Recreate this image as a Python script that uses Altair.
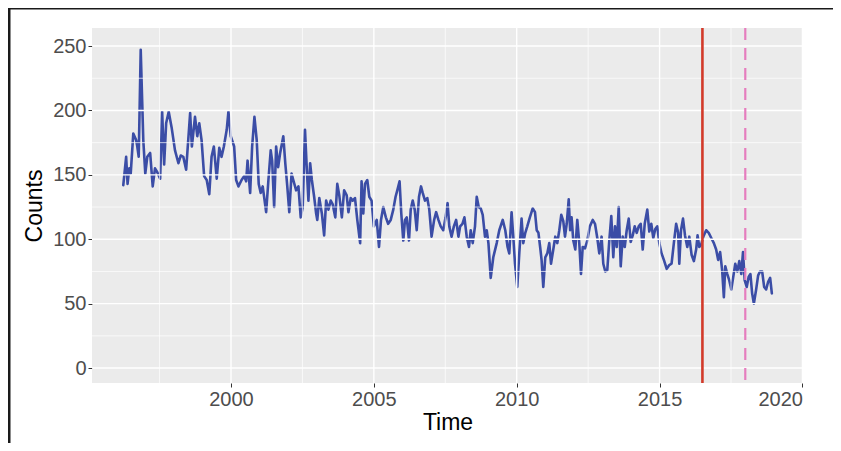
import altair as alt
import pandas as pd

# Monthly counts (decimal year, count)
time = [
    1996.23, 1996.33, 1996.38, 1996.44, 1996.49, 1996.58, 1996.68, 1996.72, 1996.77, 1996.84,
    1996.89, 1996.93, 1997.00, 1997.07, 1997.17, 1997.26, 1997.34, 1997.42, 1997.52, 1997.59,
    1997.66, 1997.73, 1997.82, 1997.92, 1998.04, 1998.16, 1998.24, 1998.33, 1998.43, 1998.57,
    1998.63, 1998.74, 1998.82, 1998.89, 1998.97, 1999.06, 1999.15, 1999.24, 1999.32, 1999.40,
    1999.50, 1999.59, 1999.67, 1999.75, 1999.85, 1999.91, 1999.99, 2000.11, 2000.18, 2000.26,
    2000.37, 2000.46, 2000.53, 2000.58, 2000.67, 2000.74, 2000.82, 2000.90, 2000.97, 2001.04,
    2001.11, 2001.23, 2001.31, 2001.39, 2001.44, 2001.51, 2001.58, 2001.65, 2001.72, 2001.78,
    2001.83, 2001.90, 2001.97, 2002.04, 2002.12, 2002.18, 2002.28, 2002.36, 2002.44, 2002.51,
    2002.59, 2002.65, 2002.71, 2002.77, 2002.83, 2002.91, 2002.98, 2003.02, 2003.09, 2003.18,
    2003.26, 2003.33, 2003.41, 2003.49, 2003.56, 2003.65, 2003.72, 2003.79, 2003.88, 2003.96,
    2004.05, 2004.11, 2004.19, 2004.26, 2004.34, 2004.42, 2004.52, 2004.57, 2004.63, 2004.69,
    2004.77, 2004.84, 2004.92, 2005.00, 2005.10, 2005.18, 2005.25, 2005.33, 2005.42, 2005.50,
    2005.59, 2005.68, 2005.76, 2005.82, 2005.90, 2005.96, 2006.03, 2006.09, 2006.15, 2006.23,
    2006.29, 2006.36, 2006.43, 2006.50, 2006.58, 2006.65, 2006.71, 2006.79, 2006.87, 2006.94,
    2007.02, 2007.11, 2007.18, 2007.26, 2007.34, 2007.43, 2007.51, 2007.58, 2007.64, 2007.72,
    2007.80, 2007.88, 2007.96, 2008.02, 2008.10, 2008.17, 2008.25, 2008.33, 2008.39, 2008.46,
    2008.54, 2008.60, 2008.67, 2008.74, 2008.81, 2008.89, 2008.95, 2009.01, 2009.09, 2009.18,
    2009.30, 2009.39, 2009.51, 2009.60, 2009.68, 2009.74, 2009.82, 2009.88, 2009.94, 2010.02,
    2010.09, 2010.17, 2010.23, 2010.30, 2010.37, 2010.46, 2010.56, 2010.64, 2010.70, 2010.76,
    2010.82, 2010.87, 2010.93, 2011.00, 2011.07, 2011.14, 2011.20, 2011.28, 2011.35, 2011.42,
    2011.49, 2011.56, 2011.63, 2011.69, 2011.75, 2011.82, 2011.87, 2011.92, 2011.98, 2012.05,
    2012.12, 2012.19, 2012.25, 2012.31, 2012.39, 2012.47, 2012.56, 2012.66, 2012.74, 2012.82,
    2012.89, 2012.97, 2013.03, 2013.10, 2013.17, 2013.24, 2013.31, 2013.38, 2013.44, 2013.50,
    2013.57, 2013.64, 2013.71, 2013.78, 2013.85, 2013.92, 2013.99, 2014.06, 2014.13, 2014.20,
    2014.27, 2014.34, 2014.41, 2014.48, 2014.57, 2014.64, 2014.71, 2014.78, 2014.85, 2014.92,
    2014.99, 2015.07, 2015.15, 2015.25, 2015.34, 2015.42, 2015.50, 2015.58, 2015.65, 2015.69,
    2015.75, 2015.82, 2015.89, 2015.97, 2016.04, 2016.12, 2016.20, 2016.28, 2016.33, 2016.39,
    2016.46, 2016.53, 2016.63, 2016.72, 2016.81, 2016.90, 2016.98, 2017.05, 2017.12, 2017.19,
    2017.25, 2017.30, 2017.37, 2017.44, 2017.51, 2017.58, 2017.65, 2017.72, 2017.79, 2017.86,
    2017.92, 2017.98, 2018.05, 2018.12, 2018.18, 2018.24, 2018.30, 2018.38, 2018.45, 2018.52,
    2018.59, 2018.66, 2018.73, 2018.80, 2018.87, 2018.93,
]
counts = [
    142, 164, 143, 155, 151, 182, 177, 172, 164, 247,
    208, 177, 151, 164, 167, 141, 155, 152, 147, 199,
    158, 190, 199, 187, 169, 159, 165, 164, 154, 198,
    172, 195, 180, 190, 177, 149, 146, 135, 164, 172,
    147, 171, 164, 172, 185, 199, 180, 172, 146, 141,
    146, 149, 145, 161, 136, 172, 195, 177, 143, 136,
    141, 121, 146, 169, 161, 125, 172, 156, 167, 174,
    180, 159, 141, 121, 151, 146, 138, 141, 117, 125,
    185, 156, 130, 159, 146, 133, 120, 115, 132, 120,
    103, 130, 123, 130, 127, 117, 143, 134, 117, 138,
    134, 121, 132, 130, 132, 115, 97, 145, 120, 143,
    146, 133, 130, 110, 115, 94, 115, 125, 117, 112,
    115, 123, 133, 138, 145, 120, 99, 115, 117, 99,
    123, 130, 123, 107, 133, 141, 136, 130, 132, 123,
    102, 115, 121, 115, 110, 107, 117, 128, 110, 102,
    110, 115, 102, 110, 112, 117, 102, 94, 107, 97,
    110, 133, 125, 124, 119, 102, 107, 97, 70, 86,
    97, 107, 115, 107, 94, 89, 121, 102, 81, 63,
    89, 116, 97, 105, 110, 117, 124, 121, 107, 105,
    94, 84, 63, 86, 89, 97, 81, 92, 102, 97,
    107, 119, 114, 102, 112, 131, 107, 117, 99, 92,
    115, 97, 73, 94, 93, 99, 110, 115, 112, 101,
    89, 102, 81, 75, 76, 99, 118, 86, 110, 94,
    125, 79, 102, 94, 107, 116, 98, 103, 110, 105,
    110, 112, 92, 112, 123, 106, 112, 101, 108, 110,
    97, 89, 84, 77, 80, 81, 97, 112, 105, 81,
    107, 116, 103, 94, 102, 88, 83, 92, 103, 94,
    96, 102, 107, 105, 101, 97, 92, 84, 90, 76,
    55, 79, 73, 68, 61, 71, 81, 75, 83, 73,
    90, 68, 63, 71, 73, 58, 50, 61, 72, 75,
    75, 63, 61, 67, 70, 58,
]

x_ticks = [2000, 2005, 2010, 2015, 2020]
x_minor = [1997.5, 2002.5, 2007.5, 2012.5, 2017.5]
y_ticks = [0, 50, 100, 150, 200, 250]
y_minor = [25, 75, 125, 175, 225]
event_solid = [2016.5]
event_dashed = [2018.0]

FONT = "Liberation Sans"
x_scale = alt.Scale(domain=[1995.135, 2020.02], nice=False, zero=False)
y_scale = alt.Scale(domain=[-11.6, 264], nice=False, zero=False)

df = pd.DataFrame({"Time": time, "Counts": counts})

line = alt.Chart(df).mark_line(
    color="#3B4DA6", strokeWidth=2.6, strokeJoin="round", strokeCap="round"
).encode(
    x=alt.X("Time:Q", scale=x_scale,
            axis=alt.Axis(values=x_ticks, format="d", title="Time")),
    y=alt.Y("Counts:Q", scale=y_scale,
            axis=alt.Axis(values=y_ticks, format="d", title="Counts")),
)

def vrule(vals, **kw):
    return alt.Chart(pd.DataFrame({"Time": vals})).mark_rule(**kw).encode(
        x=alt.X("Time:Q", scale=x_scale)
    )

def hrule(vals, **kw):
    return alt.Chart(pd.DataFrame({"Counts": vals})).mark_rule(**kw).encode(
        y=alt.Y("Counts:Q", scale=y_scale)
    )

grid_x_minor = vrule(x_minor, color="white", strokeWidth=0.7)
grid_x_major = vrule(x_ticks, color="white", strokeWidth=1.4)
grid_y_minor = hrule(y_minor, color="white", strokeWidth=0.7)
grid_y_major = hrule(y_ticks, color="white", strokeWidth=1.4)

vline_solid = vrule(event_solid, color="#D23A2A", strokeWidth=2.6)
vline_dashed = vrule(event_dashed, color="#E57DBE", strokeWidth=2.2, strokeDash=[12, 8])

frame_df = pd.DataFrame({"a": [0]})
frame_top = alt.Chart(frame_df).mark_rule(color="#1A1A1A", strokeWidth=3).encode(
    x=alt.value(-84), x2=alt.value(760), y=alt.value(-20)
)
frame_left = alt.Chart(frame_df).mark_rule(color="#1A1A1A", strokeWidth=3).encode(
    x=alt.value(-83), y=alt.value(-21), y2=alt.value(420)
)

chart = alt.layer(
    line, grid_y_minor, grid_x_minor, grid_y_major, grid_x_major,
    vline_solid, vline_dashed, frame_top, frame_left,
).properties(
    width=711,
    height=355,
    padding={"left": 84, "top": 20, "right": 30, "bottom": 60},
    autosize=alt.AutoSizeParams(type="none"),
    background="white",
).configure_view(
    fill="#EBEBEB", stroke=None, strokeWidth=0
).configure_axis(
    labelFont=FONT, titleFont=FONT, grid=False, domain=False,
    tickSize=4, tickColor="#333333", tickWidth=1,
    labelFontSize=20, labelColor="#4D4D4D", labelPadding=2,
    titleFontSize=23, titleColor="black", titleFontWeight="normal",
).configure_axisX(titlePadding=2).configure_axisY(titlePadding=6)

chart.save("out.html", embed_options={"renderer": "svg", "actions": False})
